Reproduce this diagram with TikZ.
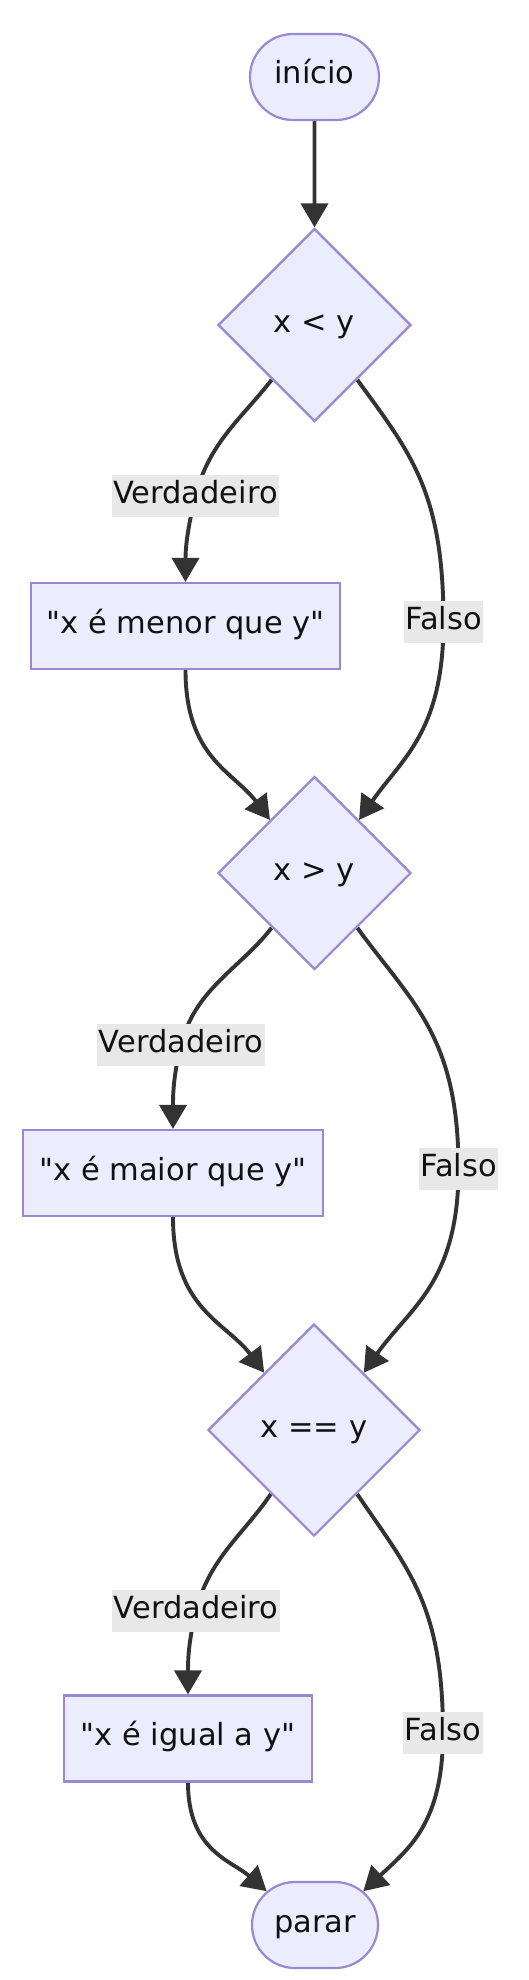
\documentclass[tikz,border=0pt]{standalone}
\usepackage{fontspec}
\setmainfont{DejaVu Sans}[Ligatures=TeXOff]
\usetikzlibrary{shapes.geometric,shapes.misc,arrows.meta,backgrounds}
\definecolor{nodefill}{HTML}{ECECFF}
\definecolor{nodeline}{HTML}{9A88D0}
\definecolor{edgecol}{HTML}{333333}
\definecolor{lblfill}{HTML}{E8E8E8}
\definecolor{txt}{HTML}{111111}
\begin{document}
\begin{tikzpicture}[x=1pt,y=1pt,
  every node/.style={font=\fontsize{30.5}{36}\selectfont, text=txt, text height=22pt, text depth=8pt},
  term/.style={rounded rectangle, draw=nodeline, fill=nodefill, line width=2.2pt, minimum height=86pt, inner sep=0pt},
  proc/.style={rectangle, draw=nodeline, fill=nodefill, line width=2.2pt, minimum height=86pt, inner sep=0pt},
  decision/.style={diamond, aspect=1, draw=nodeline, fill=nodefill, line width=2.2pt, inner sep=0pt},
  elabel/.style={fill=lblfill, inner xsep=1.5pt, inner ysep=0pt, minimum height=42pt},
  flow/.style={draw=edgecol, line width=3.9pt, -{Triangle[length=24pt,width=27pt]}},
  dn/.style={out looseness=0.9, in looseness=1.3},
  up/.style={out looseness=1.3, in looseness=0.9}
]
\useasboundingbox (0,0) rectangle (528,-1980);

\node[term, minimum width=129pt] (start) at (314.5,-77) {início};
\node[decision, minimum width=193pt, minimum height=193pt] (d1) at (314.5,-325) {x < y};
\node[elabel] (v1) at (195.5,-496) {Verdadeiro};
\node[proc, minimum width=309pt] (b1) at (185.5,-626) {"x é menor que y"};
\node[elabel] (f1) at (443.5,-622) {Falso};
\node[decision, minimum width=193pt, minimum height=193pt] (d2) at (314.5,-873) {x > y};
\node[elabel] (v2) at (181,-1045) {Verdadeiro};
\node[proc, minimum width=300pt] (b2) at (173,-1173) {"x é maior que y"};
\node[elabel] (f2) at (458.5,-1169) {Falso};
\node[decision, minimum width=212pt, minimum height=212pt] (d3) at (314,-1430) {x == y};
\node[elabel] (v3) at (196,-1611) {Verdadeiro};
\node[proc, minimum width=248pt] (b3) at (188,-1738.5) {"x é igual a y"};
\node[elabel] (f3) at (443,-1733) {Falso};
\node[term, minimum width=126pt] (stop) at (315,-1925) {parar};

\begin{scope}[on background layer]
\fill[white] (0,0) rectangle (528,-1980);
\draw[flow] (start) -- (d1);
\draw[flow] (d1.-128) to[out=-128,in=76,out looseness=0.9,in looseness=1.0] (v1.center) to[out=-104,in=90] (b1.north);
\draw[flow] (d1.-52) to[out=-54,in=90,dn] (f1.center) to[out=-90,in=55,up] (d2.50);
\draw[flow] (b1.south) to[out=-90,in=127,up] (d2.130);
\draw[flow] (d2.-128) to[out=-128,in=76,out looseness=0.9,in looseness=1.0] (v2.center) to[out=-104,in=90] (b2.north);
\draw[flow] (d2.-52) to[out=-54,in=90,dn] (f2.center) to[out=-90,in=55,up] (d3.49);
\draw[flow] (b2.south) to[out=-90,in=127,up] (d3.131);
\draw[flow] (d3.-124) to[out=-124,in=76,out looseness=0.9,in looseness=1.0] (v3.center) to[out=-104,in=90] (b3.north);
\draw[flow] (d3.-56) to[out=-56,in=90,dn] (f3.center) to[out=-90,in=43,up] (stop.35);
\draw[flow] (b3.south) to[out=-90,in=139,up] (stop.145);
\end{scope}
\end{tikzpicture}
\end{document}
